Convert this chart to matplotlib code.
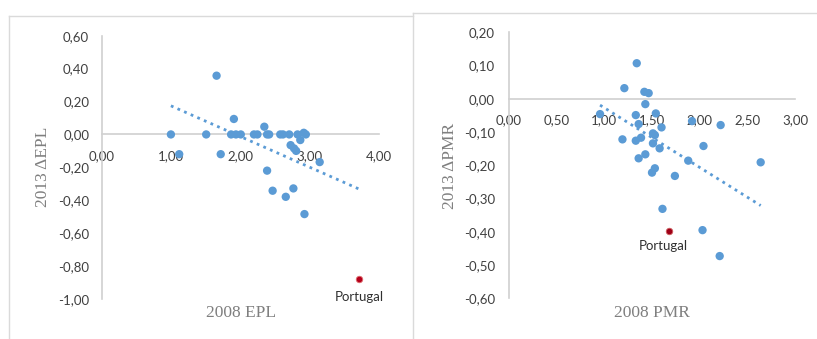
import matplotlib
matplotlib.use("Agg")
import matplotlib.pyplot as plt
from matplotlib.lines import Line2D

# ============================================================
# data
# ============================================================

epl_x = [1.00, 1.12, 1.51, 1.66, 1.72, 1.91, 1.87, 1.94, 2.01, 2.20, 2.25, 2.35, 2.39, 2.42,
         2.39, 2.47, 2.58, 2.62, 2.71, 2.73, 2.78, 2.81, 2.83, 2.87, 2.92, 2.95, 2.66, 2.77,
         2.93, 3.15]
epl_y = [0.00, -0.12, 0.00, 0.357, -0.12, 0.094, 0.00, 0.00, 0.00, 0.00, 0.00, 0.047, 0.00, 0.00,
         -0.22, -0.342, 0.00, 0.00, 0.00, -0.065, -0.085, -0.10, 0.00, -0.034, 0.01, 0.00, -0.379,
         -0.328, -0.484, -0.168]
epl_portugal = (3.72, -0.88)
epl_trend_x = [1.00, 3.72]
epl_trend_y = [0.174, -0.332]

pmr_x = [1.34, 1.21, 1.42, 1.465, 1.43, 0.955, 1.33, 1.54, 1.36, 1.60, 1.51, 1.53, 1.385, 1.33,
         1.19, 1.51, 1.58, 1.43, 1.36, 2.04, 1.88, 1.53, 1.50, 1.74, 1.92, 2.22, 1.61, 2.03,
         2.21, 2.64]
pmr_y = [0.107, 0.032, 0.021, 0.017, -0.016, -0.046, -0.049, -0.044, -0.076, -0.086, -0.104,
         -0.109, -0.117, -0.126, -0.122, -0.134, -0.149, -0.167, -0.179, -0.142, -0.186, -0.209,
         -0.222, -0.232, -0.067, -0.079, -0.331, -0.395, -0.473, -0.191]
pmr_portugal = (1.68, -0.397)
pmr_trend_x = [0.955, 2.64]
pmr_trend_y = [-0.019, -0.321]

epl_xticks = [0, 1, 2, 3, 4]
epl_yticks = [0.6, 0.4, 0.2, 0.0, -0.2, -0.4, -0.6, -0.8, -1.0]
pmr_xticks = [0, 0.5, 1, 1.5, 2, 2.5, 3]
pmr_yticks = [0.2, 0.1, 0.0, -0.1, -0.2, -0.3, -0.4, -0.5, -0.6]

BLUE = "#5B9BD5"
RED = "#B5001C"
AXIS = "#D0D0D0"
TICK = "#404040"
W, H = 817, 339


def comma(v):
    return f"{v:.2f}".replace(".", ",")


def fx(px):
    return px / W


def fy(py):
    return 1 - py / H


def style_axes(ax, xlim, ylim, xticks, yticks, xpad, ypad):
    ax.set_xlim(*xlim)
    ax.set_ylim(*ylim)
    for s in ["top", "right"]:
        ax.spines[s].set_visible(False)
    ax.spines["left"].set_position(("data", 0))
    ax.spines["bottom"].set_position(("data", 0))
    ax.spines["left"].set_color(AXIS)
    ax.spines["bottom"].set_color(AXIS)
    ax.spines["left"].set_linewidth(1.2)
    ax.spines["bottom"].set_linewidth(1.2)
    ax.set_xticks(xticks)
    ax.set_yticks(yticks)
    ax.set_xticklabels([comma(v) for v in xticks])
    ax.set_yticklabels([comma(v) if v != 0 else "0,00" for v in yticks])
    ax.tick_params(axis="x", length=0, pad=xpad, labelsize=9.5, labelcolor=TICK)
    ax.tick_params(axis="y", length=0, pad=ypad, labelsize=9.5, labelcolor=TICK)
    for lab in ax.get_xticklabels() + ax.get_yticklabels():
        lab.set_family("Lato")
    ax.patch.set_visible(False)


fig = plt.figure(figsize=(W / 100, H / 100), dpi=100)

# panel frames
fig.add_artist(Line2D([fx(9), fx(9)], [fy(16), 0], color="#DADADA", lw=1))
fig.add_artist(Line2D([fx(9), fx(413)], [fy(16), fy(16)], color="#DADADA", lw=1))
fig.add_artist(Line2D([fx(413), fx(413)], [fy(12.5), 0], color="#DADADA", lw=1))
fig.add_artist(Line2D([fx(413), 1], [fy(12.5), fy(12.5)], color="#DADADA", lw=1))

# ---------------- left: EPL ----------------
ax1 = fig.add_axes([fx(101.7), fy(299), fx(378.5 - 101.7), (299 - 35.7) / H])
style_axes(ax1, (0, 4), (-1.0, 0.6), epl_xticks, epl_yticks, 11, 9)
ax1.plot(epl_trend_x, epl_trend_y, color=BLUE, lw=2, linestyle=(0, (1, 1.6)), zorder=2)
ax1.scatter(epl_x, epl_y, s=36, color=BLUE, edgecolors="none", zorder=3)
ax1.scatter([epl_portugal[0]], [epl_portugal[1]], s=22, color=RED, edgecolors="#E07070",
            linewidths=0.6, zorder=3)
ax1.annotate("Portugal", epl_portugal, xytext=(0, -13), textcoords="offset points",
             ha="center", va="center", fontsize=9.5, color="#303030", family="Lato")

fig.text(fx(43), fy(167), "2013 ΔEPL", rotation=90, ha="center", va="center",
         fontsize=12.5, color="#7F7F7F", family="Liberation Serif")
fig.text(fx(241), fy(313), "2008 EPL", ha="center", va="center",
         fontsize=12.5, color="#7F7F7F", family="Liberation Serif")

# ---------------- right: PMR ----------------
ax2 = fig.add_axes([fx(509), fy(298.3), fx(795 - 509), (298.3 - 32.3) / H])
style_axes(ax2, (0, 3), (-0.6, 0.2), pmr_xticks, pmr_yticks, 11, 10)
ax2.plot(pmr_trend_x, pmr_trend_y, color=BLUE, lw=2, linestyle=(0, (1, 1.6)), zorder=2)
ax2.scatter(pmr_x, pmr_y, s=36, color=BLUE, edgecolors="none", zorder=3)
ax2.scatter([pmr_portugal[0]], [pmr_portugal[1]], s=22, color="#9E0018", edgecolors="#D06060",
            linewidths=0.6, zorder=3)
ax2.annotate("Portugal", pmr_portugal, xytext=(-4, -11), textcoords="offset points",
             ha="center", va="center", fontsize=9.5, color="#303030", family="Lato")

fig.text(fx(450), fy(166), "2013 ΔPMR", rotation=90, ha="center", va="center",
         fontsize=12.5, color="#7F7F7F", family="Liberation Serif")
fig.text(fx(652), fy(313), "2008 PMR", ha="center", va="center",
         fontsize=12.5, color="#7F7F7F", family="Liberation Serif")

fig.savefig("out.png", dpi=100)
